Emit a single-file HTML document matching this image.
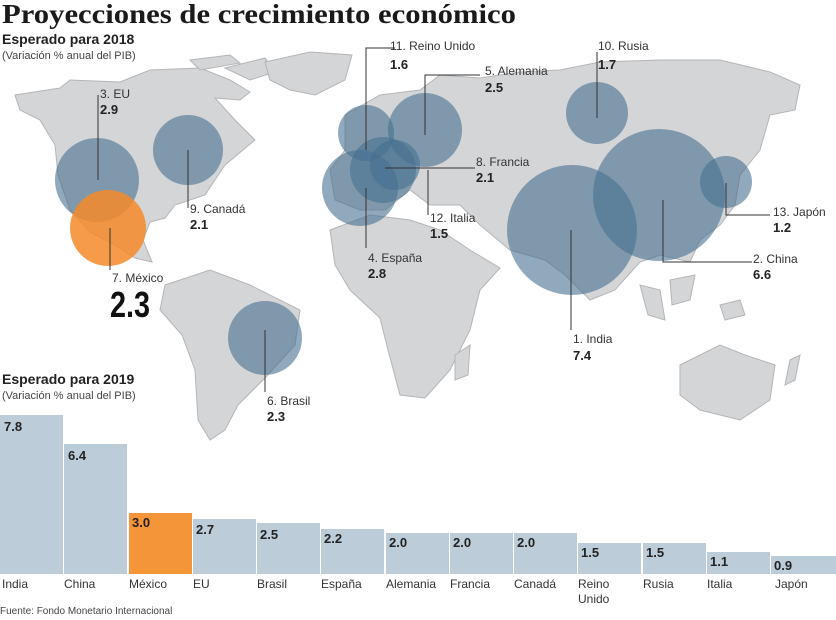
<!DOCTYPE html>
<html><head><meta charset="utf-8"><style>
html,body{margin:0;padding:0;background:#fff}
svg{display:block}
text{font-family:"Liberation Sans",sans-serif}
</style></head><body>
<svg width="836" height="620" viewBox="0 0 836 620" xmlns="http://www.w3.org/2000/svg">
<rect width="836" height="620" fill="#fff"/>
<g fill="#d4d5d7" stroke="#b4b5b7" stroke-width="1">
<polygon points="15,95 60,88 70,80 120,82 150,70 200,68 230,80 250,92 240,100 215,98 235,120 255,140 225,165 205,195 175,205 165,218 150,222 143,240 152,262 135,258 115,245 90,232 70,210 58,175 55,145 40,120 20,110"/>
<polygon points="225,68 265,58 275,72 250,80"/>
<polygon points="265,62 310,52 352,55 345,80 315,95 290,90 270,80"/>
<polygon points="190,60 230,55 240,63 200,70"/>
<polygon points="165,285 210,270 250,285 300,310 295,345 265,378 238,405 225,430 210,440 198,420 195,370 182,335 160,310"/>
<polygon points="345,115 380,95 420,90 440,75 480,78 520,72 560,70 600,62 660,60 720,60 770,72 800,85 795,110 770,115 760,150 740,175 735,205 720,225 700,240 690,262 660,255 640,262 615,290 590,300 565,275 545,260 510,250 480,225 460,205 430,205 410,190 385,210 360,210 335,200 330,170 345,150"/>
<polygon points="330,230 370,215 410,220 440,230 470,250 500,268 480,290 470,330 450,370 425,398 400,395 388,350 380,318 350,290 335,265"/>
<polygon points="455,355 470,345 468,375 455,380"/>
<polygon points="640,285 660,290 665,320 648,315"/>
<polygon points="670,280 695,275 690,300 672,305"/>
<polygon points="720,305 740,300 745,315 725,320"/>
<polygon points="680,365 720,345 745,355 775,365 770,400 740,420 700,410 680,395"/>
<polygon points="790,360 800,355 795,380 785,385"/>
</g>
<g fill="#46708f" fill-opacity="0.6">
<circle cx="97" cy="180" r="42"/>
<circle cx="188" cy="150" r="35"/>
<circle cx="265" cy="338" r="37"/>
<circle cx="366" cy="133" r="28"/>
<circle cx="425" cy="130" r="37"/>
<circle cx="360" cy="188" r="38"/>
<circle cx="383" cy="170" r="33"/>
<circle cx="395" cy="165" r="25"/>
<circle cx="597" cy="113" r="31"/>
<circle cx="572" cy="230" r="65"/>
<circle cx="659" cy="195" r="66"/>
<circle cx="726" cy="182" r="26"/>
</g>
<circle cx="108" cy="228" r="38" fill="#f5892a" fill-opacity="0.85"/>
<g stroke="#333" stroke-width="1" fill="none">
<line x1="98" y1="95" x2="98" y2="180"/>
<line x1="110" y1="228" x2="110" y2="270"/>
<line x1="188" y1="150" x2="188" y2="208"/>
<line x1="265" y1="330" x2="265" y2="392"/>
<polyline points="395,48 366,48 366,150"/>
<polyline points="480,75 425,75 425,135"/>
<line x1="366" y1="188" x2="366" y2="248"/>
<line x1="385" y1="168" x2="475" y2="168"/>
<line x1="428" y1="170" x2="428" y2="215"/>
<line x1="597" y1="52" x2="597" y2="118"/>
<line x1="571" y1="230" x2="571" y2="330"/>
<polyline points="663,200 663,262 752,262"/>
<polyline points="726,183 726,215 770,215"/>
</g>
<text x="2" y="23" font-weight="bold" font-size="27" fill="#1a1a1a" textLength="514" lengthAdjust="spacingAndGlyphs" style="font-family:'Liberation Serif',serif">Proyecciones de crecimiento económico</text>
<text x="2" y="44" font-size="14" font-weight="bold" fill="#222">Esperado para 2018</text>
<text x="2" y="59" font-size="11" fill="#444">(Variación % anual del PIB)</text>
<g font-size="12" fill="#333">
<text x="100" y="98">3. EU</text>
<text x="190" y="213">9. Canadá</text>
<text x="112" y="282">7. México</text>
<text x="267" y="405">6. Brasil</text>
<text x="390" y="50">11. Reino Unido</text>
<text x="485" y="75">5. Alemania</text>
<text x="368" y="262">4. España</text>
<text x="476" y="166">8. Francia</text>
<text x="430" y="222">12. Italia</text>
<text x="598" y="50">10. Rusia</text>
<text x="573" y="343">1. India</text>
<text x="753" y="263">2. China</text>
<text x="773" y="216">13. Japón</text>
</g>
<g font-size="13" font-weight="bold" fill="#222">
<text x="100" y="114">2.9</text>
<text x="190" y="229">2.1</text>
<text x="267" y="421">2.3</text>
<text x="390" y="69">1.6</text>
<text x="485" y="92">2.5</text>
<text x="368" y="278">2.8</text>
<text x="476" y="182">2.1</text>
<text x="430" y="238">1.5</text>
<text x="598" y="69">1.7</text>
<text x="573" y="360">7.4</text>
<text x="753" y="279">6.6</text>
<text x="773" y="232">1.2</text>
</g>
<text x="110" y="317" font-size="36" font-weight="bold" fill="#111" transform="translate(110,317) scale(0.8,1) translate(-110,-317)">2.3</text>
<text x="2" y="384" font-size="14" font-weight="bold" fill="#222">Esperado para 2019</text>
<text x="2" y="399" font-size="11" fill="#444">(Variación % anual del PIB)</text>
<g fill="#bccdd9">
<rect x="0" y="415" width="63" height="159"/>
<rect x="64" y="444" width="63" height="130"/>
<rect x="193" y="519" width="63" height="55"/>
<rect x="257" y="523" width="63" height="51"/>
<rect x="321" y="529" width="63" height="45"/>
<rect x="386" y="533" width="63" height="41"/>
<rect x="450" y="533" width="63" height="41"/>
<rect x="514" y="533" width="63" height="41"/>
<rect x="578" y="543" width="63" height="31"/>
<rect x="643" y="543" width="63" height="31"/>
<rect x="707" y="552" width="63" height="22"/>
<rect x="771" y="556" width="65" height="18"/>
</g>
<rect x="129" y="513" width="63" height="61" fill="#f4953a"/>
<g font-size="13" font-weight="bold" fill="#222">
<text x="4" y="431">7.8</text>
<text x="68" y="460">6.4</text>
<text x="132" y="527">3.0</text>
<text x="196" y="534">2.7</text>
<text x="260" y="539">2.5</text>
<text x="324" y="543">2.2</text>
<text x="389" y="547">2.0</text>
<text x="453" y="547">2.0</text>
<text x="517" y="547">2.0</text>
<text x="581" y="557">1.5</text>
<text x="646" y="557">1.5</text>
<text x="710" y="566">1.1</text>
<text x="774" y="570">0.9</text>
</g>
<g font-size="12" fill="#333">
<text x="2" y="588">India</text>
<text x="64" y="588">China</text>
<text x="129" y="588">México</text>
<text x="193" y="588">EU</text>
<text x="257" y="588">Brasil</text>
<text x="321" y="588">España</text>
<text x="386" y="588">Alemania</text>
<text x="450" y="588">Francia</text>
<text x="514" y="588">Canadá</text>
<text x="578" y="588">Reino</text>
<text x="578" y="603">Unido</text>
<text x="643" y="588">Rusia</text>
<text x="707" y="588">Italia</text>
<text x="775" y="588">Japón</text>
</g>
<text x="0" y="614" font-size="10" fill="#444">Fuente: Fondo Monetario Internacional</text>
</svg>
</body></html>
